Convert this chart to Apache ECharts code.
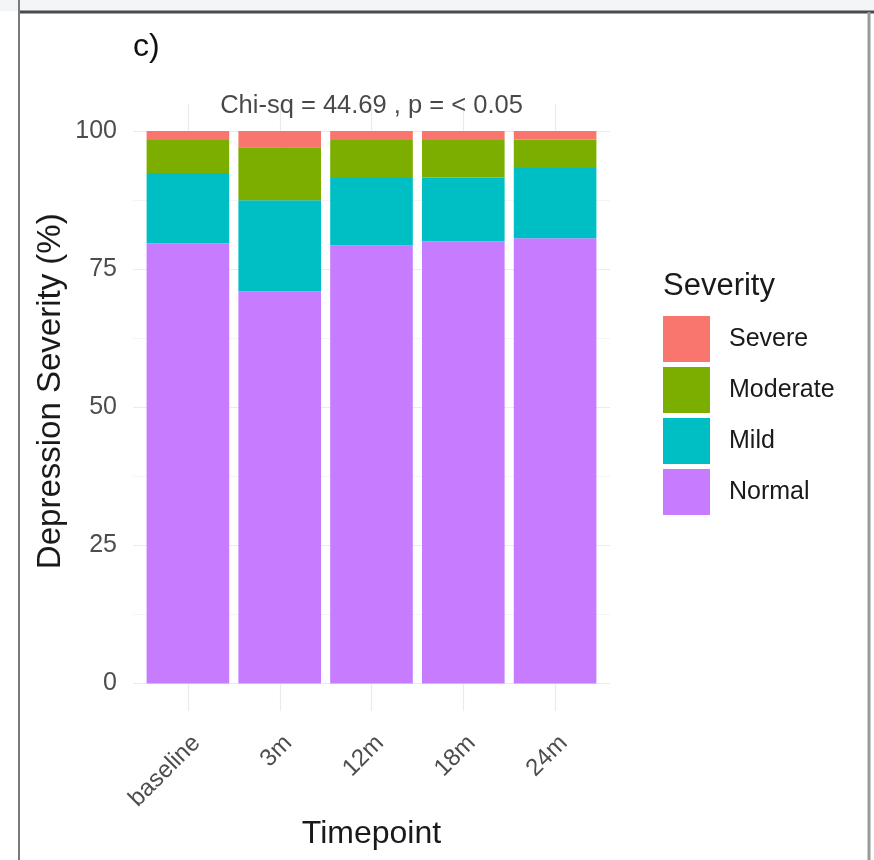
<!DOCTYPE html>
<html>
<head>
<meta charset="utf-8">
<script src="https://cdn.jsdelivr.net/npm/echarts@6/dist/echarts.min.js"></script>
<style>
html,body{margin:0;padding:0;background:#fff;}
#chart{width:874px;height:860px;}
</style>
</head>
<body>
<div id="chart"></div>
<script>
const categories = ['baseline', '3m', '12m', '18m', '24m'];
const normal   = [79.7, 71.0, 79.3, 80.0, 80.6];
const mild     = [12.7, 16.5, 12.2, 11.6, 12.7];
const moderate = [6.0, 9.6, 6.9, 6.8, 5.2];
const severe   = [1.6, 2.9, 1.6, 1.6, 1.5];
const yTicks = [0, 25, 50, 75, 100];
const yMinor = [12.5, 37.5, 62.5, 87.5];
const xPositions = [1, 2, 3, 4, 5];
const annotationText = 'Chi-sq = 44.69 , p = < 0.05';
const annotationPos = [3, 104.6];
const legendOrder = ['Severe', 'Moderate', 'Mild', 'Normal'];

const colors = {Severe: '#F8766D', Moderate: '#7CAE00', Mild: '#00BFC4', Normal: '#C77CFF'};
const FONT = 'Liberation Sans, Arial, Helvetica, sans-serif';

const gridTop = 103.5, gridBottom = 860 - 711;

const gridLines = [];
yTicks.forEach(v => gridLines.push({yAxis: v, lineStyle: {color: '#ebebeb', width: 1.2, type: 'solid'}}));
yMinor.forEach(v => gridLines.push({yAxis: v, lineStyle: {color: '#f4f4f4', width: 1, type: 'solid'}}));
xPositions.forEach(v => gridLines.push({xAxis: v, lineStyle: {color: '#ebebeb', width: 1.2, type: 'solid'}}));

function barSeries(name, values) {
  return {
    name: name, type: 'bar', stack: 'total', xAxisIndex: 0, yAxisIndex: 0,
    data: values, barWidth: '90%', z: 3,
    itemStyle: {color: colors[name]}
  };
}

const chart = echarts.init(document.getElementById('chart'), null, {renderer: 'canvas'});
chart.setOption({
  animation: false,
  backgroundColor: '#ffffff',
  textStyle: {fontFamily: FONT},
  grid: [
    {left: 142, width: 459, top: gridTop, bottom: gridBottom},
    {left: 133, width: 477, top: gridTop, bottom: gridBottom}
  ],
  xAxis: [
    {
      type: 'category', gridIndex: 0, data: categories,
      axisLine: {show: false}, axisTick: {show: false}, splitLine: {show: false},
      axisLabel: {rotate: 45, fontSize: 24, color: '#4d4d4d', margin: 20, fontFamily: FONT, align: 'right', verticalAlign: 'top'},
      name: 'Timepoint', nameLocation: 'middle', nameGap: 105,
      nameTextStyle: {fontSize: 32, color: '#1a1a1a', fontFamily: FONT}
    },
    {
      type: 'value', gridIndex: 1, min: 0.4, max: 5.6, show: false,
      splitLine: {show: false}
    }
  ],
  yAxis: [
    {type: 'value', gridIndex: 0, min: -5, max: 105, show: false, splitLine: {show: false}},
    {
      type: 'value', gridIndex: 1, min: -5, max: 105,
      axisLine: {show: false}, axisTick: {show: false}, splitLine: {show: false},
      axisLabel: {customValues: yTicks, fontSize: 25, color: '#4d4d4d', margin: 16, fontFamily: FONT},
      name: 'Depression Severity (%)', nameLocation: 'middle', nameGap: 66, nameMoveOverlap: false,
      nameTextStyle: {fontSize: 33, color: '#1a1a1a', fontFamily: FONT, padding: [0, 0, 0, 32]}
    }
  ],
  legend: {
    data: legendOrder, orient: 'vertical', left: 663, top: 316, padding: 0,
    itemWidth: 47, itemHeight: 46, itemGap: 5, icon: 'rect', selectedMode: false,
    textStyle: {fontSize: 25, color: '#1a1a1a', fontFamily: FONT, padding: [0, 0, 0, 14]}
  },
  graphic: [
    {type: 'rect', shape: {x: 0, y: 0, width: 874, height: 11}, style: {fill: '#f4f5f7'}, silent: true},
    {type: 'line', shape: {x1: 19, y1: 12, x2: 874, y2: 12}, style: {stroke: '#4a4a4a', lineWidth: 3}, silent: true},
    {type: 'line', shape: {x1: 19, y1: 0, x2: 19, y2: 860}, style: {stroke: '#7a7a7a', lineWidth: 2}, silent: true},
    {type: 'line', shape: {x1: 869, y1: 12, x2: 869, y2: 860}, style: {stroke: '#9a9a9a', lineWidth: 3}, silent: true},
    {type: 'text', left: 133, top: 31, style: {text: 'c)', fontSize: 32, fill: '#111', fontFamily: FONT}},
    {type: 'text', left: 663, top: 271, style: {text: 'Severity', fontSize: 31, fill: '#1a1a1a', fontFamily: FONT}}
  ],
  series: [
    {
      type: 'scatter', xAxisIndex: 1, yAxisIndex: 1, z: 1, silent: true,
      data: [annotationPos], symbolSize: 0,
      label: {show: true, position: 'inside', formatter: annotationText, fontSize: 25.5, color: '#1a1a1a', fontFamily: FONT},
      markLine: {silent: true, symbol: 'none', label: {show: false}, data: gridLines, z: 1}
    },
    barSeries('Normal', normal),
    barSeries('Mild', mild),
    barSeries('Moderate', moderate),
    barSeries('Severe', severe)
  ]
});
</script>
</body>
</html>
